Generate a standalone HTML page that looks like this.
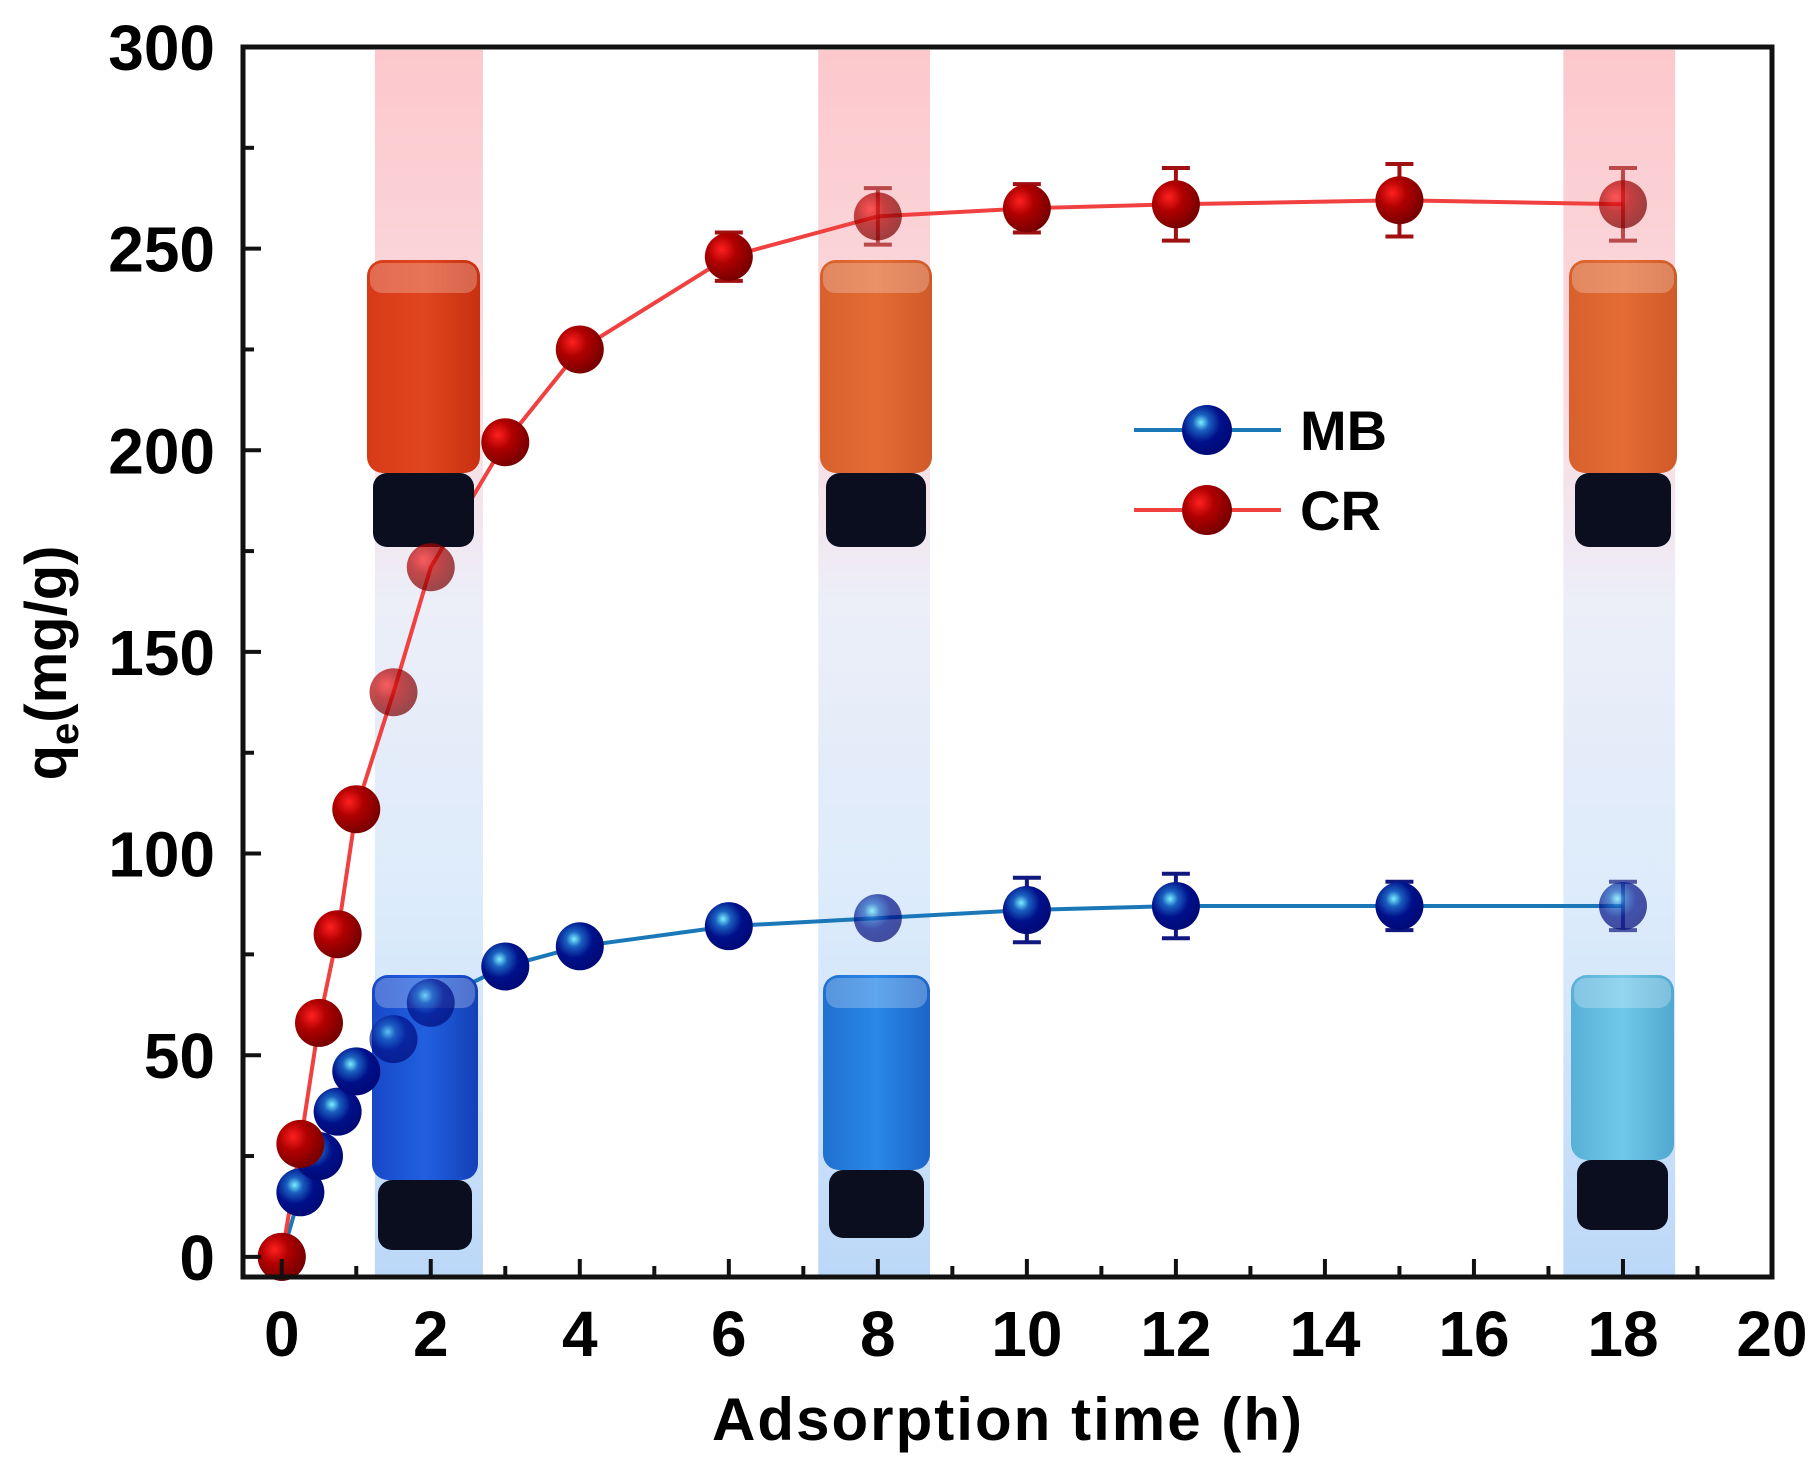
<!DOCTYPE html>
<html><head><meta charset="utf-8"><style>
html,body{margin:0;padding:0;background:#fff}
svg{display:block;font-family:"Liberation Sans",Arial,sans-serif;font-weight:bold}
</style></head><body>
<svg id="chart" width="1819" height="1462" viewBox="0 0 1819 1462">
<defs>
<linearGradient id="band" x1="0" y1="0" x2="0" y2="1">
<stop offset="0" stop-color="#fcc8cc"/><stop offset="0.3" stop-color="#f9dde2"/><stop offset="0.45" stop-color="#eceef8"/><stop offset="0.7" stop-color="#dcebfb"/><stop offset="1" stop-color="#bcd8f8"/></linearGradient>
<radialGradient id="gRed" cx="0.35" cy="0.35" r="0.65"><stop offset="0" stop-color="#ff2020"/><stop offset="0.45" stop-color="#b00000"/><stop offset="1" stop-color="#7a0000"/></radialGradient>
<radialGradient id="gBlue" cx="0.38" cy="0.35" r="0.65"><stop offset="0" stop-color="#7af0ff"/><stop offset="0.25" stop-color="#1a60c0"/><stop offset="0.6" stop-color="#00108a"/><stop offset="1" stop-color="#000a78"/></radialGradient>
<linearGradient id="liqRed" x1="0" x2="1"><stop offset="0" stop-color="#d83a18"/><stop offset="0.5" stop-color="#e0461e"/><stop offset="1" stop-color="#c83010"/></linearGradient>
<linearGradient id="liqOr" x1="0" x2="1"><stop offset="0" stop-color="#d8602c"/><stop offset="0.5" stop-color="#e46c34"/><stop offset="1" stop-color="#d05a28"/></linearGradient>
<linearGradient id="liqB1" x1="0" x2="1"><stop offset="0" stop-color="#1848c8"/><stop offset="0.5" stop-color="#2060e0"/><stop offset="1" stop-color="#1440b8"/></linearGradient>
<linearGradient id="liqB2" x1="0" x2="1"><stop offset="0" stop-color="#2070d0"/><stop offset="0.5" stop-color="#2a88e8"/><stop offset="1" stop-color="#1c64c8"/></linearGradient>
<linearGradient id="liqB3" x1="0" x2="1"><stop offset="0" stop-color="#58b0d8"/><stop offset="0.5" stop-color="#70c8e8"/><stop offset="1" stop-color="#50a8d0"/></linearGradient>
</defs>
<g id="bands"></g>
<g id="lines"></g>
<g id="vials"></g>
<g id="plot"></g>
<g id="axes"></g>
<g>
<line x1="1134" y1="430" x2="1281" y2="430" stroke="#1a78b8" stroke-width="4"/>
<circle cx="1207" cy="430" r="25" fill="url(#gBlue)"/>
<text x="1300" y="450" font-size="56">MB</text>
<line x1="1134" y1="510" x2="1281" y2="510" stroke="#f04040" stroke-width="4"/>
<circle cx="1207" cy="510" r="25" fill="url(#gRed)"/>
<text x="1300" y="530" font-size="56">CR</text>
</g>
<text x="1007" y="1440" font-size="60" text-anchor="middle" textLength="590">Adsorption time (h)</text>
<text transform="translate(66,663) rotate(-90)" font-size="58" text-anchor="middle">q<tspan font-size="40" dy="12">e</tspan><tspan dy="-12">(mg/g)</tspan></text>
</svg>
<script>
const times=[0,0.25,0.5,0.75,1,1.5,2,3,4,6,8,10,12,15,18];
const crValues=[0,28,58,80,111,140,171,202,225,248,258,260,261,262,261];
const crErrors=[0,0,0,0,0,0,0,0,0,6,7,6,9,9,9];
const mbValues=[0,16,25,36,46,54,63,72,77,82,84,86,87,87,87];
const mbErrors=[0,0,0,0,0,0,0,0,0,0,0,8,8,6,6];
const xTicks=[0,2,4,6,8,10,12,14,16,18,20];
const yTicks=[0,50,100,150,200,250,300];
const bandRanges=[[1.25,2.7],[7.2,8.7],[17.2,18.7]];
const XMIN=-0.52,XMAX=20,YMIN=-5,YMAX=300;
const L=243,R=1772,T=47,B=1277;
const sx=v=>L+(v-XMIN)/(XMAX-XMIN)*(R-L);
const sy=v=>B-(v-YMIN)/(YMAX-YMIN)*(B-T);
const NS='http://www.w3.org/2000/svg';
function mk(tag,attrs,parent){const e=document.createElementNS(NS,tag);for(const k in attrs)e.setAttribute(k,attrs[k]);parent.appendChild(e);return e;}
const bands=document.getElementById('bands'),plot=document.getElementById('plot'),vials=document.getElementById('vials'),axes=document.getElementById('axes'),lines=document.getElementById('lines');
bandRanges.forEach(b=>{const r=mk('rect',{x:sx(b[0]),y:T+3,width:sx(b[1])-sx(b[0]),height:B-T-3,fill:'url(#band)'},bands);

});
const inBand=t=>bandRanges.some(b=>t>=b[0]&&t<=b[1]);
function series(vals,errs,color,grad,name){
 let d='';times.forEach((t,i)=>{d+=(i?'L':'M')+sx(t)+','+sy(vals[i]);});
 const p=mk('path',{d:d,fill:'none',stroke:color,'stroke-width':4},lines);
 
 
 times.forEach((t,i)=>{
  const op=inBand(t)?0.7:1;
  if(errs[i]>0){const x=sx(t),y1=sy(vals[i]-errs[i]),y2=sy(vals[i]+errs[i]);
   const eb=mk('path',{d:`M${x},${y1}V${y2}M${x-14},${y1}H${x+14}M${x-14},${y2}H${x+14}`,stroke:grad==='url(#gRed)'?'#a01010':'#101880','stroke-width':4,fill:'none',opacity:op},plot);
   
   }
  const c=mk('circle',{cx:sx(t),cy:sy(vals[i]),r:24,fill:grad,opacity:op},plot);
  
  
 });
}
series(mbValues,mbErrors,'#1a78b8','url(#gBlue)','mb');
series(crValues,crErrors,'#f04040','url(#gRed)','cr');
const vialDefs=[[367,480,260,473,547,'url(#liqRed)'],[820,932,260,473,547,'url(#liqOr)'],[1569,1677,260,473,547,'url(#liqOr)'],
[372,478,975,1180,1250,'url(#liqB1)'],[823,930,975,1170,1238,'url(#liqB2)'],[1571,1674,975,1160,1230,'url(#liqB3)']];
vialDefs.forEach(v=>{const g=mk('g',{},vials);
 
 
 mk('rect',{x:v[0],y:v[2],width:v[1]-v[0],height:v[3]-v[2],rx:16,fill:v[5]},g);
 mk('rect',{x:v[0]+3,y:v[2]+3,width:v[1]-v[0]-6,height:30,rx:12,fill:'#ffffff',opacity:0.25},g);
 mk('rect',{x:v[0]+6,y:v[3],width:v[1]-v[0]-12,height:v[4]-v[3],rx:14,fill:'#0a0e1e'},g);
});
mk('rect',{x:L,y:T,width:R-L,height:B-T,fill:'none',stroke:'#111','stroke-width':5},axes);
for(let v=0;v<=20;v+=1){const x=sx(v),len=v%2===0?18:11;mk('line',{x1:x,y1:B,x2:x,y2:B-len,stroke:'#111','stroke-width':4},axes);}
for(let v=0;v<=300;v+=25){const y=sy(v),len=v%50===0?18:11;mk('line',{x1:L,y1:y,x2:L+len,y2:y,stroke:'#111','stroke-width':4},axes);}
xTicks.forEach(v=>{const t=mk('text',{x:sx(v),y:1356,'font-size':64,'text-anchor':'middle'},axes);t.textContent=v;
 
 });
yTicks.forEach(v=>{const t=mk('text',{x:215,y:sy(v)+23,'font-size':64,'text-anchor':'end'},axes);t.textContent=v;
 
 });
</script>
</body></html>
